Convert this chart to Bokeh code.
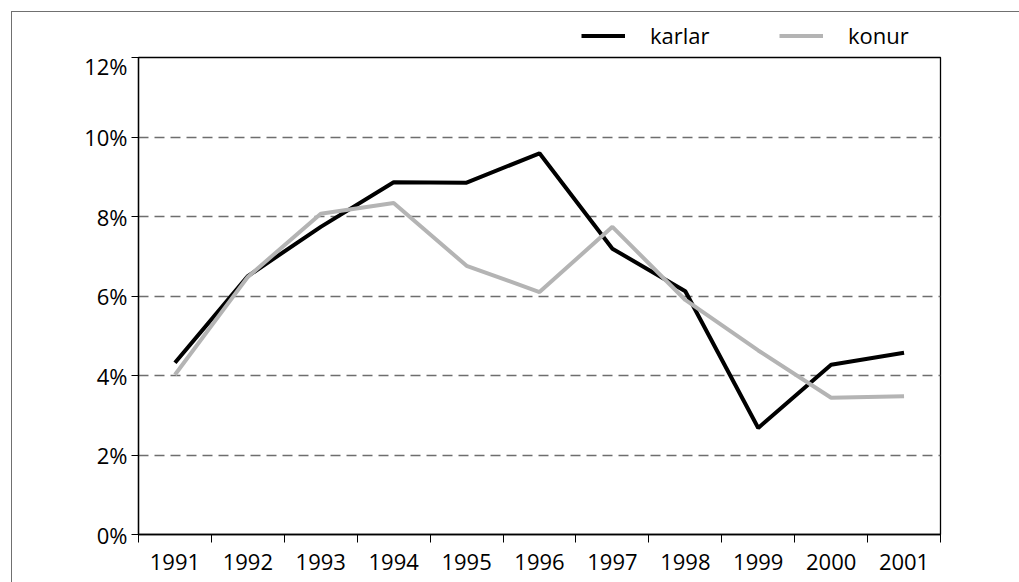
from bokeh.plotting import figure
from bokeh.layouts import column
from bokeh.models import (Range1d, FixedTicker, Legend, LegendItem, PrintfTickFormatter)
from bokeh.embed import file_html
from bokeh.resources import INLINE

years = [1991, 1992, 1993, 1994, 1995, 1996, 1997, 1998, 1999, 2000, 2001]
karlar = [4.32, 6.50, 7.74, 8.86, 8.85, 9.59, 7.19, 6.12, 2.68, 4.27, 4.57]
konur = [4.02, 6.48, 8.07, 8.34, 6.76, 6.10, 7.74, 5.90, 4.63, 3.44, 3.48]
y_ticks = [0, 2, 4, 6, 8, 10, 12]
grid_ticks = [2, 4, 6, 8, 10]
series_names = ["karlar", "konur"]
series_colors = ["black", "#b4b4b4"]

FONT = "Open Sans"
FS = "22px"

# ---- main chart ----
p = figure(width=1019, height=532, output_backend="svg", toolbar_location=None,
           x_range=Range1d(years[0] - 0.5, years[-1] + 0.5), y_range=Range1d(0, 12),
           min_border_left=138, min_border_right=79, min_border_top=7, min_border_bottom=48)
p.background_fill_color = "white"
p.border_fill_alpha = 0
p.outline_line_color = "black"
p.outline_line_width = 1.3

boundaries = [y - 0.5 for y in years] + [years[-1] + 0.5]
p.xaxis.ticker = FixedTicker(ticks=years, minor_ticks=boundaries)
p.xaxis.major_label_overrides = {y: str(y) for y in years}
p.xaxis.major_tick_out = 0
p.xaxis.major_tick_in = 0
p.xaxis.minor_tick_out = 8
p.xaxis.minor_tick_in = 0
p.xaxis.minor_tick_line_color = "black"
p.xaxis.major_label_standoff = 11

p.yaxis.ticker = FixedTicker(ticks=y_ticks)
p.yaxis.formatter = PrintfTickFormatter(format="%d%%")
p.yaxis.major_tick_out = 7
p.yaxis.major_tick_in = 0
p.yaxis.minor_tick_line_color = None
p.yaxis.major_label_standoff = 4

for ax in (p.xaxis, p.yaxis):
    ax.axis_line_color = "black"
    ax.axis_line_width = 1.3
    ax.major_tick_line_color = "black"
    ax.major_label_text_font = FONT
    ax.major_label_text_font_size = FS
    ax.major_label_text_color = "black"

p.xgrid.grid_line_color = None
p.ygrid.ticker = FixedTicker(ticks=grid_ticks)
p.ygrid.grid_line_color = "#6e6e6e"
p.ygrid.grid_line_dash = "10 6"
p.ygrid.grid_line_width = 1.3

p.line(years, karlar, line_color=series_colors[0], line_width=4)
p.line(years, konur, line_color=series_colors[1], line_width=4)

# ---- legend strip (legend drawn inside its own frame so it is not clipped) ----
lg = figure(width=1019, height=50, output_backend="svg", toolbar_location=None,
            x_axis_type=None, y_axis_type=None,
            x_range=Range1d(0, 1), y_range=Range1d(0, 1),
            min_border_left=0, min_border_right=0, min_border_top=0, min_border_bottom=0)
lg.background_fill_alpha = 0
lg.border_fill_alpha = 0
lg.outline_line_color = None
lg.xgrid.grid_line_color = None
lg.ygrid.grid_line_color = None
# same series; they fall outside this strip's ranges, only their legend swatches show
l1 = lg.line(years, karlar, line_color=series_colors[0], line_width=4)
l2 = lg.line(years, konur, line_color=series_colors[1], line_width=4)

legend = Legend(items=[LegendItem(label=series_names[0], renderers=[l1]),
                       LegendItem(label=series_names[1], renderers=[l2])],
                orientation="horizontal", location=(443, 0))
legend.border_line_color = None
legend.background_fill_alpha = 0
legend.padding = 0
legend.margin = 0
legend.spacing = 44
legend.glyph_width = 44
legend.glyph_height = 29
legend.label_height = 29
legend.label_width = 85
legend.label_standoff = 25
legend.label_text_font = FONT
legend.label_text_font_size = FS
legend.label_text_color = "black"
lg.add_layout(legend, "center")

layout = column(lg, p, spacing=0)
layout.styles = {"background": "linear-gradient(#707070,#707070) 11px 11px / 1008px 1px no-repeat, "
                               "linear-gradient(#707070,#707070) 11px 11px / 1px 571px no-repeat, white"}

open("out.html", "w").write(file_html(layout, INLINE))
